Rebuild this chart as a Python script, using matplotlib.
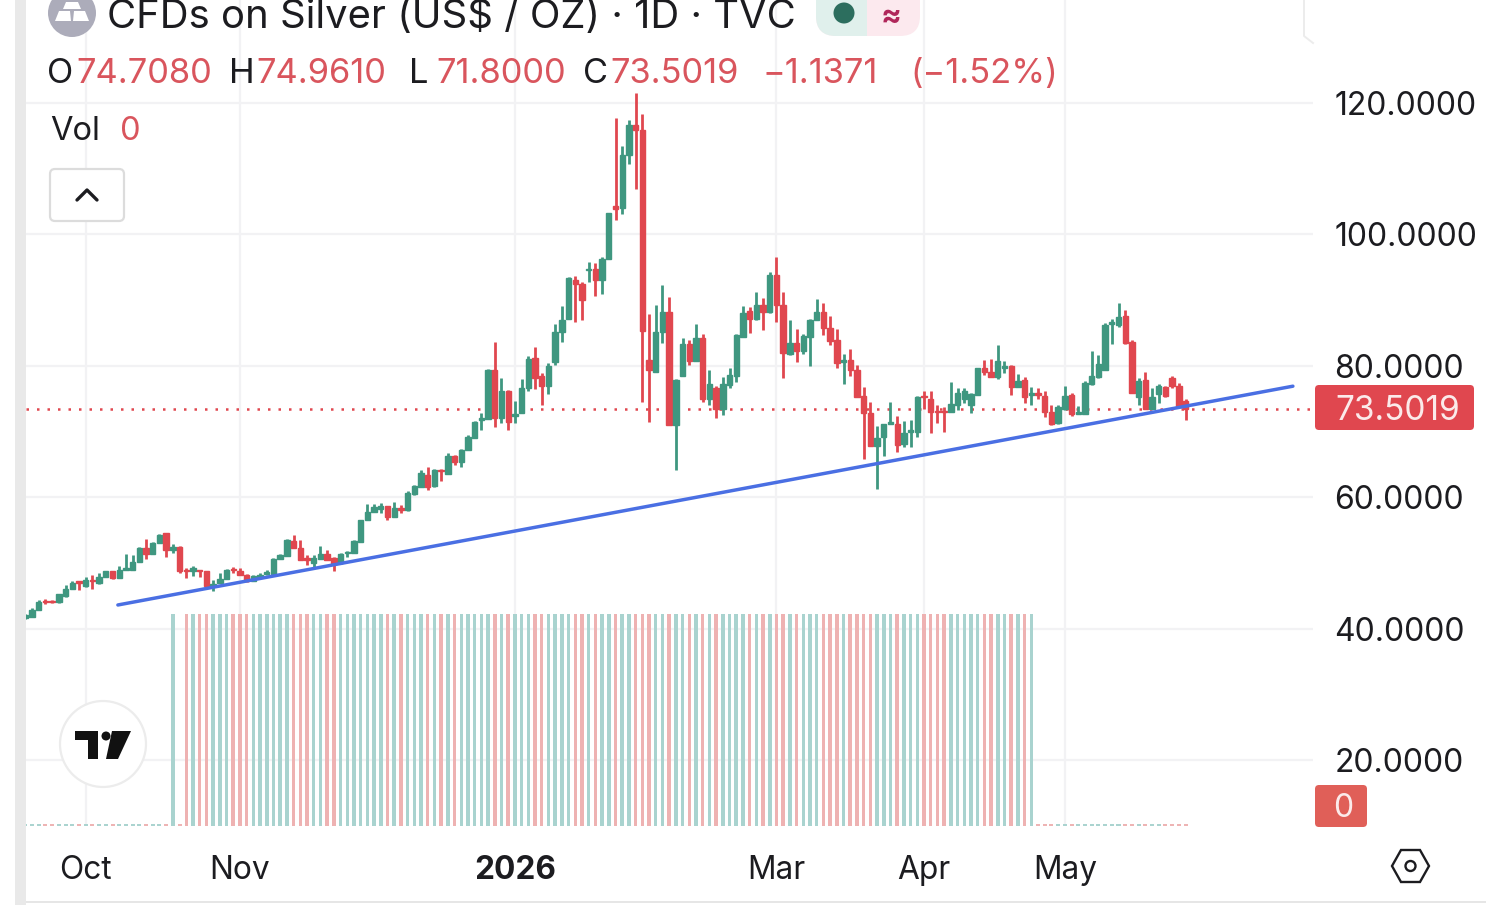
import matplotlib
matplotlib.use('Agg')
import matplotlib.pyplot as plt
from matplotlib.patches import Circle, FancyBboxPatch, Polygon, Rectangle

opens = [41.6,41.8,42.9,44.2,44.2,44.0,45.0,46.0,47.2,46.5,
         47.4,46.9,47.9,48.7,47.7,48.9,48.9,50.1,52.3,51.4,
         53.1,54.5,51.9,52.5,49.0,48.8,48.9,48.7,46.5,47.0,
         47.5,49.1,48.7,48.2,47.2,47.9,48.3,48.3,50.6,51.1,
         53.3,52.3,50.7,50.0,50.6,51.4,50.8,50.0,51.5,51.5,
         53.2,56.5,57.8,58.2,58.6,57.0,58.3,58.0,60.5,61.6,
         63.4,61.7,64.2,63.6,66.2,65.4,67.2,69.0,71.8,71.9,
         79.4,72.0,76.2,72.3,72.8,76.6,81.2,78.4,76.9,80.6,
         85.2,87.1,93.0,92.5,94.6,94.7,93.0,96.2,104.4,104.0,
         112.1,116.7,115.9,80.9,79.1,85.2,88.2,71.0,78.5,83.3,
         80.8,84.3,75.0,76.6,73.5,77.1,78.5,84.4,88.3,87.1,
         89.3,88.2,93.8,89.3,81.8,83.4,82.2,84.4,86.9,88.2,
         85.7,83.9,80.6,80.9,79.4,75.4,72.8,67.8,69.1,71.2,
         71.2,68.1,70.0,70.0,75.4,75.0,73.2,73.2,72.9,74.0,
         75.0,74.0,75.6,79.6,79.0,78.3,79.6,80.0,76.8,77.8,
         75.6,75.8,75.4,73.0,71.3,73.4,75.6,72.7,72.7,77.2,
         78.3,79.4,86.4,86.2,87.6,83.7,75.3,77.8,73.5,75.7,
         76.8,78.1,76.9,74.708]
highs = [42.2,43.2,44.3,44.5,44.4,45.2,46.6,47.2,47.3,47.8,
         48.2,48.4,48.8,48.8,49.5,51.4,51.2,52.4,53.6,53.2,
         54.4,54.6,52.9,52.6,49.3,49.6,49.0,48.8,47.4,48.5,
         49.1,49.4,49.2,48.3,48.1,48.5,49.0,50.7,51.4,53.7,
         54.3,53.5,51.2,51.2,52.6,52.0,50.9,51.5,51.8,53.5,
         56.6,59.0,59.0,59.1,58.7,59.3,58.8,60.9,61.9,64.2,
         64.6,64.3,64.3,66.8,66.4,67.4,69.4,71.6,72.8,79.5,
         83.7,78.1,76.3,74.6,78.0,81.5,82.8,78.9,80.5,86.3,
         89.1,93.5,93.6,92.8,95.8,95.6,96.6,103.3,117.7,113.5,
         117.4,121.6,118.4,87.9,89.3,92.3,90.4,78.0,84.2,83.9,
         86.3,84.9,79.4,76.9,78.3,79.6,84.8,89.1,88.9,91.3,
         90.3,94.3,96.5,91.3,87.0,85.6,84.9,87.2,90.1,89.5,
         87.6,85.6,81.8,82.6,80.1,76.8,74.5,70.8,71.2,74.5,
         72.3,71.6,71.8,75.4,76.2,76.1,74.0,73.8,77.6,76.6,
         76.7,75.8,79.7,80.9,81.0,83.2,80.8,80.1,78.7,78.3,
         76.8,76.6,76.1,74.0,74.0,77.0,75.8,73.9,77.7,82.2,
         81.6,86.5,87.2,89.5,88.5,83.9,78.1,79.0,76.6,77.2,
         76.9,78.4,77.4,74.961]
lows = [41.4,41.8,42.9,43.8,43.9,43.9,44.8,46.0,45.9,46.4,
        46.1,46.8,47.9,47.6,47.7,48.9,48.9,50.1,50.6,51.4,
        53.1,50.9,51.5,48.4,47.7,48.0,47.9,46.2,45.7,46.9,
        47.5,48.5,48.1,47.1,47.2,47.8,48.2,48.2,50.6,51.1,
        52.3,50.4,49.7,49.4,50.6,50.5,48.8,49.9,50.9,51.5,
        53.2,56.5,57.8,57.6,56.6,57.0,57.6,57.9,60.3,61.6,
        61.1,61.5,62.5,63.6,64.9,64.6,67.2,69.0,70.3,71.9,
        70.7,71.3,70.3,71.3,72.8,76.1,76.5,74.0,75.7,80.1,
        83.7,87.1,86.6,87.0,92.8,90.6,91.0,96.2,102.2,103.1,
        110.7,106.9,74.5,71.5,79.1,83.4,71.0,64.2,78.5,80.1,
        80.8,74.5,74.0,72.1,72.5,76.7,77.6,84.4,85.0,86.9,
        85.5,88.0,86.6,78.1,81.6,80.6,81.8,79.9,86.9,84.7,
        83.2,79.6,77.2,78.5,75.2,65.8,67.8,61.2,66.2,71.2,
        66.9,67.7,67.7,69.2,73.5,69.7,71.3,70.0,72.9,73.3,
        74.3,72.8,75.6,78.6,78.3,78.0,78.9,75.6,76.8,74.3,
        74.0,74.9,72.2,71.0,71.2,73.3,72.4,72.7,72.7,77.1,
        78.2,79.4,83.3,85.9,83.3,75.9,74.0,73.4,73.4,74.3,
        75.2,76.7,73.7,71.8]
closes = [42.1,42.8,44.1,44.0,44.0,45.2,46.0,47.0,47.0,47.4,
          47.2,47.9,48.7,47.7,48.9,49.2,50.2,52.3,51.4,53.1,
          54.2,52.0,52.5,48.7,48.8,49.2,48.7,46.5,46.8,47.5,
          49.0,48.9,48.2,47.2,48.0,48.2,48.6,50.6,51.2,53.5,
          52.3,50.4,50.4,50.7,51.4,50.5,49.9,51.4,51.7,53.4,
          56.5,57.8,58.5,58.6,57.0,58.3,58.1,60.7,61.7,63.7,
          61.6,64.1,64.0,66.2,65.4,67.2,69.1,71.5,72.0,79.4,
          72.0,76.2,71.5,72.7,76.6,81.1,78.1,76.9,80.0,85.2,
          87.0,93.3,92.5,90.0,94.8,93.0,96.3,103.2,103.9,112.1,
          116.7,115.9,85.3,79.3,85.1,88.2,71.0,77.9,83.3,80.8,
          84.3,75.0,77.3,73.5,77.2,78.6,84.7,88.0,87.1,89.3,
          88.2,93.8,89.3,81.9,83.4,82.3,84.5,87.0,88.2,85.7,
          83.8,80.4,80.9,79.3,75.2,72.8,67.8,69.0,71.2,71.4,
          68.0,69.8,70.2,75.2,75.3,73.0,72.9,73.0,74.2,75.8,
          76.1,75.7,79.6,79.0,78.3,80.8,80.0,76.8,77.7,75.3,
          75.8,75.6,72.9,71.2,73.7,75.4,72.7,72.9,77.4,78.4,
          80.3,86.2,86.6,87.5,83.4,75.9,77.7,73.5,75.3,76.9,
          75.4,76.9,73.8,73.5019]
# TVC reports no real volume, the bars are all the same height or empty
volumes = [0,0,0,0,0,0,0,0,0,0, 0,0,0,0,0,0,0,0,0,0,
           0,0,1,0,1,1,1,1,1,1, 1,1,1,1,1,1,1,1,1,1,
           1,1,1,1,1,1,1,1,1,1, 1,1,1,1,1,1,1,1,1,1,
           1,1,1,1,1,1,1,1,1,1, 1,1,1,1,1,1,1,1,1,1,
           1,1,1,1,1,1,1,1,1,1, 1,1,1,1,1,1,1,1,1,1,
           1,1,1,1,1,1,1,1,1,1, 1,1,1,1,1,1,1,1,1,1,
           1,1,1,1,1,1,1,1,1,1, 1,1,1,1,1,1,1,1,1,1,
           1,1,1,1,1,1,1,1,1,1, 1,0,0,0,0,0,0,0,0,0,
           0,0,0,0,0,0,0,0,0,0, 0,0,0,0]

trend_x = [13.8, 189.0]
trend_y = [43.6, 76.9]
last_price = 73.5019

y_ticks = [20, 40, 60, 80, 100, 120]
y_labels = ['20.0000', '40.0000', '60.0000', '80.0000', '100.0000', '120.0000']
x_ticks = [9, 32, 73, 112, 134, 155]
x_labels = ['Oct', 'Nov', '2026', 'Mar', 'Apr', 'May']

GREEN = '#3f9780'
RED = '#e0474f'
VOL_GREEN = '#a9d3cf'
VOL_RED = '#eeb2b2'
TEXT = '#1c1c20'
RED_TEXT = '#d9555d'
GRID = '#f2f2f4'

W, H = 1486, 905
plt.rcParams['font.family'] = ['Inter', 'DejaVu Sans']

fig = plt.figure(figsize=(W / 100, H / 100), dpi=100, facecolor='white')

# main price pane, runs from the top of the picture down to the time axis
ax = fig.add_axes([26 / W, (H - 826) / H, (1313 - 26) / W, 826 / H])
ax.set_xlim(0.1, 192.0)
ax.set_ylim(9.96, 135.68)
for s in ax.spines.values():
    s.set_visible(False)
ax.set_yticks(y_ticks)
ax.set_yticklabels(y_labels, ha='left', fontsize=23, color=TEXT)
ax.yaxis.tick_right()
ax.tick_params(axis='y', length=0, pad=15.5)
ax.set_xticks(x_ticks)
ax.set_xticklabels(x_labels, fontsize=22.8, color=TEXT)
ax.tick_params(axis='x', length=0, pad=21)
ax.get_xticklabels()[2].set_fontweight('bold')
ax.grid(True, color=GRID, lw=1.6)
ax.set_axisbelow(True)

idx = list(range(len(closes)))
colors = [GREEN if c >= o else RED for o, c in zip(opens, closes)]
ax.axhline(last_price, color=RED, lw=1.8, ls=(0, (1, 3.2)), zorder=2)
ax.vlines(idx, lows, highs, colors=colors, lw=2.0, zorder=3)
bottoms = [min(o, c) for o, c in zip(opens, closes)]
heights = [abs(c - o) for o, c in zip(opens, closes)]
ax.bar(idx, heights, bottom=bottoms, width=0.8, color=colors, edgecolor=colors, lw=1.0, zorder=3)
ax.plot(trend_x, trend_y, color='#4a6fe3', lw=2.5, zorder=4, solid_capstyle='round')

# volume pane sits over the lower part of the price pane
ax_vol = fig.add_axes([26 / W, (H - 826) / H, (1313 - 26) / W, (826 - 614) / H])
ax_vol.set_xlim(0.1, 192.0)
ax_vol.set_ylim(0, 1)
ax_vol.patch.set_alpha(0)
ax_vol.axis('off')
vol_colors = [VOL_GREEN if c >= o else VOL_RED for o, c in zip(opens, closes)]
ax_vol.bar(idx, volumes, width=0.52, color=vol_colors, zorder=2)
for i, v in enumerate(volumes):
    if v == 0:
        ax_vol.hlines(0.006, i - 0.3, i + 0.3, color=vol_colors[i], lw=1.4, zorder=2)

# header, price labels and the other chart furniture, in picture pixels
ui = fig.add_axes([0, 0, 1, 1])
ui.set_xlim(0, W)
ui.set_ylim(H, 0)
ui.patch.set_alpha(0)
ui.axis('off')

ui.add_patch(Rectangle((15, 0), 10.5, H, color='#e9e9e9', lw=0))
ui.add_patch(Rectangle((26, 901), 1460, 2, color='#e6e6e6', lw=0))

# symbol icon
ui.add_patch(Circle((72, 13), 24, color='#acacba', lw=0))
ui.add_patch(Polygon([(66, 2), (78, 2), (81, 9), (63, 9)], color='white', lw=0))
ui.add_patch(Polygon([(59, 11), (70, 11), (71, 21), (55, 21)], color='white', lw=0))
ui.add_patch(Polygon([(74, 11), (85, 11), (89, 21), (73, 21)], color='white', lw=0))
ui.text(107, 17, 'CFDs on Silver (US$ / OZ) · 1D · TVC', fontsize=28.8, color=TEXT, va='center')

# market status pill, cut off by the top of the screenshot
ui.add_patch(FancyBboxPatch((816, -30), 104, 66, boxstyle='round,pad=0,rounding_size=20', fc='#fce9ee', ec='none'))
ui.add_patch(FancyBboxPatch((816, -30), 70, 66, boxstyle='round,pad=0,rounding_size=20', fc='#e0f0ec', ec='none'))
ui.add_patch(Rectangle((867, -30), 30, 66, color='#fce9ee', lw=0))
ui.add_patch(Circle((844, 13), 10.5, color='#2c6e5e', lw=0))
ui.text(891, 17, '≈', fontsize=22, color='#b0265a', ha='center', va='center', fontweight='bold')

ohlc = [(47, 'O', TEXT), (76, '74.7080', RED_TEXT), (229, 'H', TEXT), (256, '74.9610', RED_TEXT),
        (409, 'L', TEXT), (436, '71.8000', RED_TEXT), (583, 'C', TEXT), (610, '73.5019', RED_TEXT),
        (763, '−1.1371', RED_TEXT), (910, '(−1.52%)', RED_TEXT)]
for x, s, c in ohlc:
    ui.text(x, 74, s, fontsize=24.8, color=c, va='center')
ui.text(50, 131, 'Vol', fontsize=23.5, color=TEXT, va='center')
ui.text(120, 131, '0', fontsize=23.5, color=RED_TEXT, va='center')

ui.add_patch(FancyBboxPatch((50, 169), 74, 52, boxstyle='round,pad=0,rounding_size=5', fc='white', ec='#dcdcdc', lw=1.6))
ui.plot([77, 87, 97], [200, 190, 200], color=TEXT, lw=2.4, solid_capstyle='round')

# top right corner of the hidden toolbar box
ui.plot([1304, 1304, 1313], [0, 36, 43], color='#ececec', lw=1.4)

# TradingView badge
ui.add_patch(Circle((103, 744), 43, fc='white', ec='#ececec', lw=1.6))
ui.add_patch(Polygon([(75, 731), (98, 731), (98, 759), (88, 759), (88, 740), (75, 740)], color='#111111', lw=0))
ui.add_patch(Circle((106, 736), 4.5, color='#111111', lw=0))
ui.add_patch(Polygon([(112, 731), (131, 731), (118, 759), (106, 759)], color='#111111', lw=0))

# last price and volume tags
ui.add_patch(FancyBboxPatch((1315, 385), 159, 45, boxstyle='round,pad=0,rounding_size=4', fc='#e0474f', ec='none'))
ui.text(1335, 411, '73.5019', fontsize=24, color='#fbeaea', va='center')
ui.add_patch(FancyBboxPatch((1315, 785), 52, 42, boxstyle='round,pad=0,rounding_size=4', fc='#e05f58', ec='none'))
ui.text(1343, 808, '0', fontsize=23, color='#fbeaea', va='center', ha='center')

# settings hexagon
ui.add_patch(Polygon([(1392, 866), (1401, 850), (1420, 850), (1429, 866), (1420, 882), (1401, 882)],
                     fc='white', ec=TEXT, lw=1.7))
ui.add_patch(Circle((1410.5, 866), 5, fc='white', ec=TEXT, lw=1.7))

fig.savefig('out.png', dpi=100)
